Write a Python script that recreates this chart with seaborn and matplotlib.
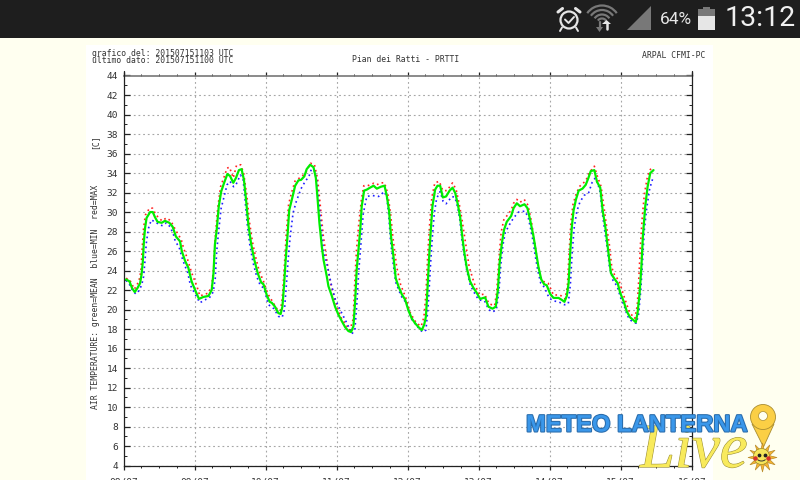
import matplotlib
matplotlib.use("Agg")
import matplotlib.pyplot as plt
import numpy as np
import pandas as pd
import seaborn as sns
import matplotlib.patheffects as pe
from matplotlib.patches import Circle, Polygon, Rectangle, Arc, Wedge
from matplotlib.ticker import FixedLocator, MultipleLocator

# hours since 08/07 00:00
MEAN_HOURS = [
    0.85, 2, 2.9, 3.8, 4.7, 5.6, 6.1, 6.5, 6.9, 7.3, 7.8, 9, 9.9, 10.6, 11.5, 12.9, 14, 15.5, 16.6, 17.7,
    19.1, 19.7, 20.8, 21.9, 23, 24.2, 25.5, 27, 28.7, 29.8, 30.4, 30.9, 31.5, 32.2, 33, 34, 35.1, 36, 37.1, 38,
    39, 39.9, 40.7, 41.4, 42.2, 43.1, 44.2, 45.4, 46.5, 47.3, 48.4, 49.4, 50.1, 51.2, 52.3, 53.1, 53.7, 54.3, 54.8, 55.4,
    56, 56.9, 58, 59.1, 60, 61.1, 61.9, 63.05, 64.2, 65, 65.6, 66.2, 67, 67.6, 68.7, 69.25, 70.4, 71.5, 72.6, 73.8,
    74.9, 76, 76.9, 77.7, 78.3, 78.8, 79.4, 80, 80.5, 81.3, 82.2, 83.3, 84.5, 85.6, 87, 88.2, 89, 89.75, 90.4, 91.2,
    92, 92.9, 94, 95.2, 96.3, 97.4, 98.55, 99.7, 100.8, 101.6, 102.2, 102.7, 103.3, 103.85, 104.4, 105.3, 106.1, 107, 107.9, 109,
    110.2, 111.2, 112.1, 113, 113.8, 114.55, 115.2, 116, 117.1, 118.3, 119.4, 120.5, 122.2, 123.3, 124.7, 125.8, 126.5, 127.1, 127.85, 128.6,
    129.5, 131, 131.8, 132.9, 134, 135.5, 136.5, 137.4, 138.55, 139.45, 140.2, 141.15, 142.15, 143, 144.2, 145.3, 147, 148.1, 149, 149.8,
    150.4, 151, 151.5, 152.1, 152.9, 153.8, 155.1, 156.2, 157.1, 157.9, 159.1, 160, 161.1, 161.9, 162.8, 163.6, 164.25, 164.7, 165.8, 167,
    167.85, 169, 170.1, 171.2, 172.4, 173.1, 173.7, 174.4, 175, 175.5, 176.3, 177.1, 178, 179.1,
]
MEAN_TEMP = [
    23.1, 22.9, 22.2, 21.8, 22.2, 22.7, 23.6, 24.8, 27, 28.4, 29.4, 30, 30, 29.5, 29, 28.9, 29.1, 28.9, 28.5, 27.5,
    27, 26, 25, 24.3, 22.9, 22, 21.1, 21.3, 21.4, 22, 23.7, 26.7, 28.2, 30.6, 32.1, 33, 33.9, 33.7, 33, 33.5,
    34.3, 34.4, 33.3, 31.3, 28.7, 26.8, 25.1, 23.7, 22.8, 22.6, 21.5, 20.8, 20.7, 20.3, 19.65, 19.55, 20.3, 22.7, 25.1, 27.5,
    30.2, 31.3, 32.7, 33.25, 33.3, 33.66, 34.4, 34.85, 34.6, 33.5, 31.3, 28.9, 26.5, 25.1, 23.4, 22.4, 21.4, 20.3, 19.5, 18.8,
    18.2, 17.8, 17.7, 18.3, 21, 24.1, 26.1, 28.2, 30.6, 32.2, 32.3, 32.5, 32.7, 32.4, 32.6, 32.7, 31.6, 30.1, 27.5, 25.5,
    23.2, 22.4, 21.6, 21, 19.9, 19.1, 18.6, 18.2, 17.9, 18.45, 19.3, 22, 25.5, 28.2, 30.6, 32.3, 32.7, 32.7, 31.5, 31.6,
    32.2, 32.5, 31.95, 30.75, 29.4, 27.3, 25.8, 24.3, 22.9, 22.2, 21.7, 21.1, 21.25, 20.3, 20.1, 20.3, 22, 24.8, 26.8, 28.2,
    29, 29.6, 30.4, 30.9, 30.6, 30.8, 30.4, 29.2, 27.5, 25.8, 24.4, 23.1, 22.6, 22.5, 21.6, 21.2, 21.2, 21, 20.8, 21.4,
    22.7, 26.1, 28.5, 30.2, 31.3, 32.2, 32.4, 32.8, 33.5, 34.2, 34.3, 33.1, 32.5, 30.2, 28.5, 26.5, 24.8, 23.75, 23.2, 22.7,
    21.7, 20.85, 19.8, 19.2, 18.9, 18.7, 19.65, 21.7, 24.4, 27.5, 30.6, 32.6, 34, 34.3,
]

MAX_HOURS = [
    0.85, 2, 3.7, 5.2, 5.9, 6.3, 6.8, 7.4, 8.8, 9.8, 11, 13, 14.5, 16, 17.7, 19.5, 20.3, 21.5, 23, 24.8,
    25.8, 28.7, 29.8, 30.5, 31, 31.8, 32.8, 34, 35, 35.8, 37.1, 38.2, 39.6, 40.6, 41.7, 42.6, 43.6, 44.8, 45.9, 47.2,
    48.8, 50, 52, 53, 53.6, 54.2, 55, 55.8, 56.7, 58, 60, 61.5, 63.2, 64.5, 65.6, 66.5, 67.5, 68.6, 69.6, 71.5,
    73.5, 75.5, 76.5, 77.6, 78.1, 78.7, 79.5, 80.4, 81.2, 82.5, 84.5, 85.6, 87, 88.2, 89.3, 90.3, 91, 92.3, 93.6, 95.4,
    97, 99, 100.6, 101.5, 102.2, 102.8, 103.5, 104.2, 105.2, 106.7, 107.9, 109.3, 111.2, 112.4, 113.4, 114.4, 115.6, 116.8, 118.5, 120.3,
    122, 123.5, 125.4, 126.1, 126.8, 127.6, 128.5, 129.5, 131, 131.8, 132.9, 134, 135.4, 136.7, 137.8, 139, 139.9, 140.8, 141.8, 143.5,
    145.3, 147.5, 149.2, 150, 150.6, 151.2, 151.9, 152.8, 154, 156.2, 157.3, 159.1, 160.2, 161.4, 162.4, 163.3, 164.2, 165, 166, 167.4,
    169.3, 171, 172.8, 173.6, 174.1, 174.7, 175.3, 176, 176.9, 177.8, 178.3,
]
MAX_TEMP = [
    23.2, 23.1, 22.1, 22.9, 24, 26.2, 28.4, 29.7, 30.4, 30.4, 29.7, 29.1, 29.4, 29.1, 28.1, 27.2, 26.3, 25.3, 23.8, 22.4,
    21.4, 21.7, 22.4, 24.4, 27.4, 30.3, 32.6, 33.6, 34.5, 34.6, 33.5, 34.8, 34.85, 34, 31.6, 28.9, 26.9, 25.2, 23.9, 23,
    21.6, 21, 20, 19.9, 21, 23.6, 27.8, 30.8, 31.9, 33.2, 33.6, 34, 35, 34.9, 33.4, 30.6, 27.6, 25.3, 23.2, 20.9,
    19.2, 18.3, 17.9, 19, 22.5, 26, 28.8, 31.3, 32.7, 32.7, 32.95, 32.8, 33, 33, 31.9, 29.7, 27.5, 24.4, 22.6, 21.2,
    19.6, 18.6, 18.3, 19.2, 21.6, 25.6, 29, 31.5, 33, 33.15, 32.2, 32.2, 33, 32.3, 30.9, 29.2, 26.8, 24.4, 22.7, 21.5,
    21.6, 20.6, 20.4, 21.8, 25, 27.9, 29.2, 29.6, 30.2, 30.9, 31.3, 31, 31.3, 30.7, 29.1, 26.8, 24.8, 23.4, 22.9, 22.7,
    21.5, 21.5, 21.1, 22.4, 26, 29, 30.8, 31.7, 32.6, 33.2, 34, 34.7, 33.6, 32.6, 30.4, 28.4, 26.6, 24.3, 23.5, 23,
    21.2, 19.7, 19.1, 20.4, 23, 26.7, 29.5, 31.8, 33.4, 34.3, 34.45,
]

MIN_HOURS = [
    0.85, 2.2, 3.2, 4.2, 5.4, 6.2, 6.8, 7.2, 7.7, 8.4, 9.4, 10.6, 12.2, 13.2, 14.5, 15.7, 16.8, 17.5, 18.8, 19.6,
    20.6, 21.7, 22.6, 24, 25.8, 27.5, 29, 30.3, 31, 31.5, 32.2, 33, 34, 35, 36, 37.2, 38, 39.5, 40.4, 41, 41.8,
    42.7, 43.8, 45, 46.2, 47.4, 49, 50.8, 52.4, 53.6, 54.4, 55, 55.6, 56.3, 57.3, 58.4, 60, 61.5, 62.6, 63.5, 64.6,
    65.3, 66, 66.8, 67.6, 68.8, 70.2, 71.6, 73.5, 75.5, 77.2, 78.2, 78.9, 79.5, 80.3, 81, 82.2, 84, 86.2, 88.2,
    89, 89.6, 90.2, 91, 92, 93.8, 95.5, 97.4, 99.5, 101, 102.2, 103, 103.7, 104.3, 105, 105.8, 107, 108, 109, 111,
    112, 113, 113.7, 114.4, 115.2, 116, 117.2, 118.4, 120, 122, 123.4, 124.7, 126, 126.9, 127.5, 128.2, 129, 130.2, 131.8,
    133.5, 135.7, 136.8, 137.5, 138.4, 139.2, 140, 141, 142.2, 143.8, 145.2, 147, 149, 150.3, 151, 151.6, 152.3, 153.2, 154.2,
    155.6, 157.2, 158.3, 159.4, 160.3, 161.1, 161.8, 162.6, 163.5, 164.2, 165.4, 166.8, 168, 169.2, 170.2, 171.4, 173.2, 174, 174.8,
    175.4, 176, 176.8, 177.8, 178.8,
]
MIN_TEMP = [
    23, 22.5, 21.9, 21.6, 22, 22.6, 23.4, 24.8, 26.8, 28.3, 29.2, 29, 28.7, 28.6, 28.9, 28.5, 27.8, 27, 26.4, 25.5,
    24.6, 23.8, 22.5, 21.7, 20.7, 21, 21.2, 21.8, 23.2, 26, 28.2, 30.4, 31.6, 32.8, 33.15, 32.6, 32.8, 33.8, 33.4, 31.5, 28.8,
    26.6, 24.8, 23.4, 22.5, 22.2, 20.5, 20.1, 19.3, 19.2, 20, 22.4, 25, 27.4, 29.9, 31.1, 32.4, 33.2, 33.6, 34.4, 34.2,
    33.2, 31, 28.6, 26, 24.6, 22.6, 21, 19.8, 18.6, 17.5, 18, 20.8, 24, 27, 29.8, 31.6, 31.7, 31.6, 32.1,
    31.4, 29.8, 27.2, 25, 22.8, 21.4, 20.7, 19, 18.2, 17.7, 17.9, 20.6, 24.4, 27.2, 29.8, 31.4, 32.1, 31.1, 30.85, 31.6,
    31.5, 30.4, 29.1, 27, 25.4, 24, 22.5, 21.8, 21, 20.9, 20, 19.75, 20, 22, 24.6, 26.6, 27.9, 28.6, 29.4,
    30, 30.1, 29.4, 28.4, 27, 25.4, 24, 22.7, 22.3, 21.2, 20.9, 20.8, 20.5, 20.6, 22.6, 25.8, 28.4, 30.1, 31,
    31.7, 32, 33, 33.5, 32.9, 32, 29.9, 28.1, 26.2, 24.4, 23, 22.4, 21.2, 20.4, 19.4, 18.9, 18.6, 19.4, 22,
    25, 28.2, 30.4, 32.4, 33.4,
]

Y_TICKS = list(range(4, 46, 2))
X_TICKS = [0, 24, 48, 72, 96, 120, 144, 168, 192]
X_LABELS = ["08/07", "09/07", "10/07", "11/07", "12/07", "13/07", "14/07", "15/07", "16/07"]

MONO = "DejaVu Sans Mono"
INK = "#333333"
GRID = "#a6a6a6"
IVORY = "#fffff0"


def draw_backdrop(fig):
    bg = fig.add_axes([0, 0, 1, 1], zorder=0)
    bg.set_xlim(0, 800)
    bg.set_ylim(480, 0)
    bg.axis("off")
    bg.add_patch(Rectangle((0, 0), 800, 480, color=IVORY, lw=0))
    bg.add_patch(Rectangle((0, 0), 800, 38, color="#1e1e1e", lw=0))
    bg.add_patch(Rectangle((86, 44.5), 627, 436, color="white", lw=0))


def draw_status_bar(top):
    light = "#e6e6e6"
    dim = "#787878"
    # alarm clock
    top.add_patch(Circle((569, 20), 8.5, fill=False, ec=light, lw=1.6))
    top.plot([565, 568.5, 574], [19.5, 23, 17], color=light, lw=1.4)
    top.plot([558, 562.5], [12, 8.5], color=light, lw=2.2)
    top.plot([575.5, 580], [8.5, 12], color=light, lw=2.2)
    top.plot([562, 560], [27.5, 31], color=light, lw=1.4)
    top.plot([576, 578], [27.5, 31], color=light, lw=1.4)
    # wifi
    for size in (10, 18, 27, 36):
        top.add_patch(Arc((602, 23.5), size, size, theta1=215, theta2=325, color=dim, lw=1.6))
    top.plot([599.5, 599.5], [22, 28], color=dim, lw=1.6)
    top.add_patch(Polygon([[596, 27], [603, 27], [599.5, 32]], color=dim, lw=0))
    top.add_patch(Polygon([[602, 24], [606.5, 20], [611, 24]], color=light, lw=0))
    top.plot([606.5, 606.5], [23, 29], color=light, lw=1.8)
    # signal, battery, text
    top.add_patch(Polygon([[627, 29.5], [650.5, 29.5], [650.5, 6]], color=dim, lw=0))
    top.text(660, 20, "64%", color=light, fontsize=12.5, family="Roboto", va="center", ha="left")
    top.add_patch(Rectangle((698, 9), 17, 8, color=dim, lw=0))
    top.add_patch(Rectangle((703, 6.5), 7, 2.5, color=dim, lw=0))
    top.add_patch(Rectangle((698, 16), 17, 14, color=light, lw=0))
    top.text(725, 19, "13:12", color="#f0f0f0", fontsize=20.5, family="Roboto", va="center", ha="left")


def draw_logo(top):
    top.text(
        640, 467, "Live", color="#f8ea5c", fontsize=45, family="Liberation Serif", style="italic",
        ha="left", va="baseline", path_effects=[pe.withStroke(linewidth=0.8, foreground="#9c9038")], zorder=3,
    )
    top.text(
        526, 425, "METEO LANTERNA", color="#3a97ea", fontsize=17.1, family="Liberation Sans", fontweight="bold",
        ha="left", va="center", path_effects=[pe.withStroke(linewidth=1.5, foreground="#2a6cab")], zorder=4,
    )
    top.add_patch(Polygon([[752, 424], [774, 424], [763.5, 447]], fc="#fbcf45", ec="#a88c30", lw=0.6, zorder=4))
    top.add_patch(Circle((763, 417), 12.5, fc="#fbcf45", ec="#a88c30", lw=0.6, zorder=4))
    top.add_patch(Circle((763, 416), 4.5, fc="#fffff0", ec="#a88c30", lw=0.5, zorder=5))
    top.scatter([761.5], [456.5], s=430, marker=(12, 1, 0), c="#f7b531", edgecolors="#b98a2a", linewidths=0.5, zorder=4)
    top.add_patch(Circle((761.5, 456.5), 8, fc="#f6e55a", ec="#9c8a2a", lw=0.5, zorder=5))
    top.scatter([758.5, 764.5], [455, 455], s=3, c="#222222", zorder=6)
    top.add_patch(Arc((761.5, 458), 9, 6, theta1=20, theta2=160, color="#333333", lw=0.7, zorder=6))
    top.scatter([755, 768], [458, 458], s=5, c="#d8322a", zorder=6)


def main():
    sns.set_style("white")
    plt.rcParams["font.family"] = ["DejaVu Sans Mono", "DejaVu Sans"]

    fig = plt.figure(figsize=(8, 4.8), dpi=100)
    draw_backdrop(fig)

    ax = fig.add_axes([123.5 / 800, (480 - 465.7) / 480, 568.2 / 800, 390.2 / 480], zorder=1)
    ax.patch.set_alpha(0)

    sns.lineplot(x=MAX_HOURS, y=MAX_TEMP, ax=ax, color="#ff2020", lw=1.2, ls=(0, (1, 2)), estimator=None, sort=False, zorder=3)
    sns.lineplot(x=MIN_HOURS, y=MIN_TEMP, ax=ax, color="#2020ff", lw=1.2, ls=(0, (1, 2)), estimator=None, sort=False, zorder=3)
    mean_df = pd.DataFrame({"hour": MEAN_HOURS, "temp": MEAN_TEMP})
    sns.lineplot(data=mean_df, x="hour", y="temp", ax=ax, color="#00ee00", lw=1.6, estimator=None, sort=False, zorder=4)

    ax.set_xlim(0, 192)
    ax.set_ylim(4, 44)
    ax.set_xlabel("")
    ax.set_ylabel("")

    ax.xaxis.set_major_locator(FixedLocator(X_TICKS))
    ax.xaxis.set_minor_locator(MultipleLocator(6))
    ax.yaxis.set_major_locator(FixedLocator(Y_TICKS))
    ax.yaxis.set_minor_locator(MultipleLocator(1))
    ax.set_xticklabels(X_LABELS)
    ax.grid(True, which="major", color=GRID, lw=0.8, ls=(0, (1.6, 2.6)))
    ax.set_axisbelow(True)

    ax.tick_params(axis="y", which="major", left=True, right=True, direction="in", length=4, width=0.9, color="#222222",
                   labelsize=6.8, labelcolor=INK, pad=3.8)
    ax.tick_params(axis="y", which="minor", left=True, right=True, direction="in", length=2, width=0.7, color="#222222")
    ax.tick_params(axis="x", which="major", bottom=True, top=True, direction="out", length=3.2, width=0.9, color="#222222",
                   labelsize=6.8, labelcolor=INK, pad=5.5)
    ax.tick_params(axis="x", which="minor", bottom=True, top=True, direction="out", length=1.6, width=0.7, color="#222222")

    for side in ("left", "right", "bottom"):
        ax.spines[side].set_color("#222222")
        ax.spines[side].set_linewidth(0.9)
    ax.spines["top"].set_color("#777777")
    ax.spines["top"].set_linewidth(1.2)

    top = fig.add_axes([0, 0, 1, 1], zorder=2)
    top.set_xlim(0, 800)
    top.set_ylim(480, 0)
    top.axis("off")

    # spines stick out a little above the plot
    top.plot([123.5, 123.5], [71, 76], color="#222222", lw=0.9)
    top.plot([691.7, 691.7], [71, 76], color="#222222", lw=0.9)

    small = dict(family=MONO, fontsize=5.9, color=INK)
    top.text(91.5, 53, "grafico del: 201507151103 UTC", va="center", ha="left", **small)
    top.text(91.5, 60.5, "ultimo dato: 201507151100 UTC", va="center", ha="left", **small)
    top.text(406, 60, "Pian dei Ratti - PRTTI", va="center", ha="center", **small)
    top.text(705.5, 56, "ARPAL CFMI-PC", va="center", ha="right", **small)
    top.text(94.5, 142, "[C]", va="center", ha="center", rotation=90, **small)
    top.text(95, 409, "AIR TEMPERATURE: green=MEAN  blue=MIN  red=MAX", va="bottom", ha="center", rotation=90, **small)

    draw_status_bar(top)
    draw_logo(top)

    fig.savefig("out.png", dpi=100)
    plt.close(fig)


if __name__ == "__main__":
    main()
